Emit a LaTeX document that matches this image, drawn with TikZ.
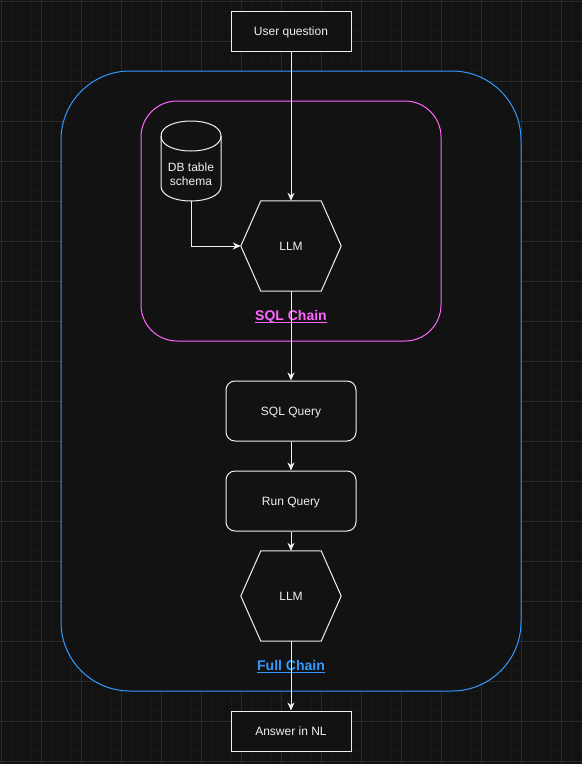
\documentclass[tikz,border=0pt]{standalone}
\usepackage{fontspec}
\setmainfont{Liberation Sans}
\usetikzlibrary{arrows.meta,calc}
\definecolor{bg}{HTML}{121212}
\definecolor{gridminor}{HTML}{171717}
\definecolor{gridmajor}{HTML}{2A2A2A}
\definecolor{fg}{HTML}{F0F0F0}
\definecolor{pinkc}{HTML}{FF66FF}
\definecolor{bluec}{HTML}{3399FF}
\tikzset{
  every node/.style={font=\fontsize{12}{14}\selectfont, text=fg},
  txt/.style={text height=8.6pt, text depth=0pt, inner sep=0pt},
  boxnode/.style={draw=fg, line width=1pt, fill=bg, minimum width=120pt, minimum height=40pt, txt},
  roundnode/.style={draw=fg, line width=1pt, fill=bg, rounded corners=9pt, minimum width=130pt, minimum height=60pt, txt},
  hexbase/.style={minimum width=100pt, minimum height=90pt, inner sep=0pt},
  hexline/.style={draw=fg, line width=1pt, fill=bg},
  conn/.style={draw=fg, line width=1pt, -{Stealth[length=8pt,width=7pt,inset=2.5pt]}},
  plain/.style={draw=fg, line width=1pt},
  grpfull/.style={draw=bluec, line width=1pt, rounded corners=69pt},
  grpsql/.style={draw=pinkc, line width=1pt, rounded corners=36pt},
  lbl/.style={font=\fontsize{14}{16}\selectfont\bfseries, text height=10pt, text depth=0pt, inner sep=0pt},
}
\newcommand{\hexdraw}[1]{%
  \path[hexline] ($(#1.north west)+(20,0)$) -- ($(#1.north east)+(-20,0)$) -- (#1.east)
    -- ($(#1.south east)+(-20,0)$) -- ($(#1.south west)+(20,0)$) -- (#1.west) -- cycle;}
\begin{document}
\begin{tikzpicture}[x=1pt,y=-1pt]
\useasboundingbox (0,0) rectangle (582,764);
\fill[bg] (0,0) rectangle (582,764);
\foreach \x in {1,11,...,581} \draw[gridminor, line width=1pt] (\x,0) -- (\x,764);
\foreach \y in {1,11,...,761} \draw[gridminor, line width=1pt] (0,\y) -- (582,\y);
\foreach \x in {1,41,...,561} \draw[gridmajor, line width=1pt] (\x,0) -- (\x,764);
\foreach \y in {1,41,...,761} \draw[gridmajor, line width=1pt] (0,\y) -- (582,\y);

% groups
\path[grpfull, fill=bg] (61,71) rectangle (521,691);
\path[grpsql] (141,101) rectangle (441,341);

% nodes
\node[boxnode] (q) at (291,31) {User question};
\node[hexbase] (llm1) at (291,246) {};
\hexdraw{llm1}
\node[txt] (llm1t) at (llm1) {LLM};
\node[roundnode] (sqlq) at (291,411) {SQL Query};
\node[roundnode] (run) at (291,501) {Run Query};
\node[hexbase] (llm2) at (291,596) {};
\hexdraw{llm2}
\node[txt] (llm2t) at (llm2) {LLM};
\node[boxnode] (ans) at (291,731) {Answer in NL};

% cylinder
\node[minimum width=60pt, minimum height=80pt, inner sep=0pt] (db) at (191,161) {};
\path[hexline] (161,136) -- (161,186) .. controls (161,206) and (221,206) .. (221,186) -- (221,136)
  .. controls (221,116) and (161,116) .. (161,136) -- cycle;
\draw[plain] (161,136) .. controls (161,156) and (221,156) .. (221,136);
\node[anchor=base, inner sep=0pt] (dbt1) at (191,171) {DB table};
\node[anchor=base, inner sep=0pt] (dbt2) at (191,185.5) {schema};

% labels
\node[lbl, text=pinkc] (sqllbl) at (291,315.7) {SQL Chain};
\draw[pinkc, line width=1pt] ($(sqllbl.base west)+(0,1.8)$) -- ($(sqllbl.base east)+(0,1.8)$);
\node[lbl, text=bluec] (fulllbl) at (291,665.7) {Full Chain};
\draw[bluec, line width=1pt] ($(fulllbl.base west)+(0,1.8)$) -- ($(fulllbl.base east)+(0,1.8)$);

% connectors
\draw[conn] (q.south) -- (llm1.north);
\draw[conn] (db.south) |- (llm1.west);
\draw[conn] (llm1.south) -- (sqlq.north);
\draw[conn] (sqlq.south) -- (run.north);
\draw[conn] (run.south) -- (llm2.north);
\draw[conn] (llm2.south) -- (ans.north);
\end{tikzpicture}
\end{document}
